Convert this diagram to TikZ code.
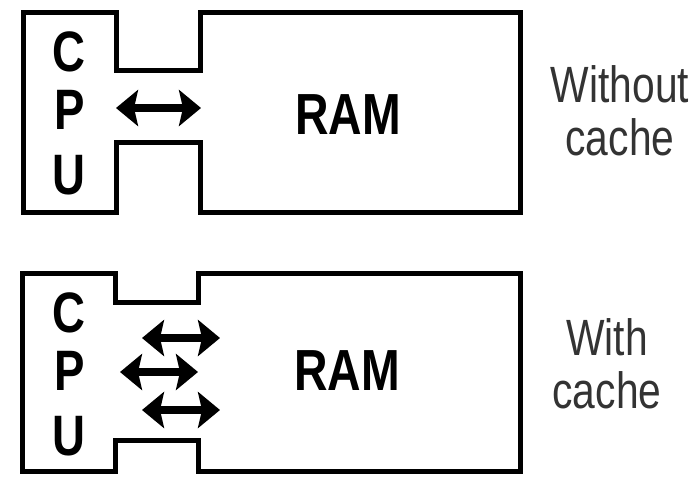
\documentclass[tikz,border=0pt]{standalone}
\usepackage{fontspec}
\setmainfont{Liberation Sans}
\newfontfamily\narrowfont[FakeStretch=0.8]{Liberation Sans}
\usetikzlibrary{arrows.meta, positioning}

\begin{document}
\begin{tikzpicture}[
    x=1pt, y=-1pt,
    outline/.style={draw=black, line width=5pt, line join=miter},
    letter/.style={inner sep=0pt, font=\narrowfont\bfseries\fontsize{57}{60}\selectfont},
    memory/.style={inner sep=0pt, font=\narrowfont\bfseries\fontsize{58}{60}\selectfont},
    caption/.style={inner sep=0pt, align=center, text=black!80, font=\narrowfont\fontsize{51}{53}\selectfont},
    arrow/.style={line width=8pt, {Stealth[length=22pt,width=36pt,inset=4pt]}-{Stealth[length=22pt,width=36pt,inset=4pt]}}
]
\useasboundingbox (0,0) rectangle (690,479);

% Outlines
\draw [outline] (23,12) -| (116,70) -| (200,12) -| (520,212) -| (200,142) -| (116,212) -| (23,12) -- cycle;
\draw [outline] (22,273) -| (115,302) -| (198,273) -| (520,471) -| (198,440) -| (115,471) -| (22,273) -- cycle;

% Nodes: without cache
\node (c1) [letter] at (69,52) {C};
\node (p1) [letter] at (70,110) {P};
\node (u1) [letter] at (69,175) {U};
\node (ram1) [memory] at (348,115) {RAM};
\node (label1) [caption] at (620,111) {Without\\cache};

% Nodes: with cache
\node (c2) [letter] at (69,313) {C};
\node (p2) [letter] at (70,371) {P};
\node (u2) [letter] at (69,436) {U};
\node (ram2) [memory] at (347,371) {RAM};
\node (label2) [caption] at (607,364) {With\\cache};

% Bus ends
\coordinate (bus1w) at (116,108);
\coordinate (bus1e) at (201,108);
\coordinate (bus2w) at (142,338);
\coordinate (bus2e) at (220,338);
\coordinate (bus3w) at (120,372);
\coordinate (bus3e) at (198,372);
\coordinate (bus4w) at (142,410);
\coordinate (bus4e) at (220,410);

% Arrows
\draw [arrow] (bus1w) -- (bus1e);
\draw [arrow] (bus2w) -- (bus2e);
\draw [arrow] (bus3w) -- (bus3e);
\draw [arrow] (bus4w) -- (bus4e);

\end{tikzpicture}
\end{document}
